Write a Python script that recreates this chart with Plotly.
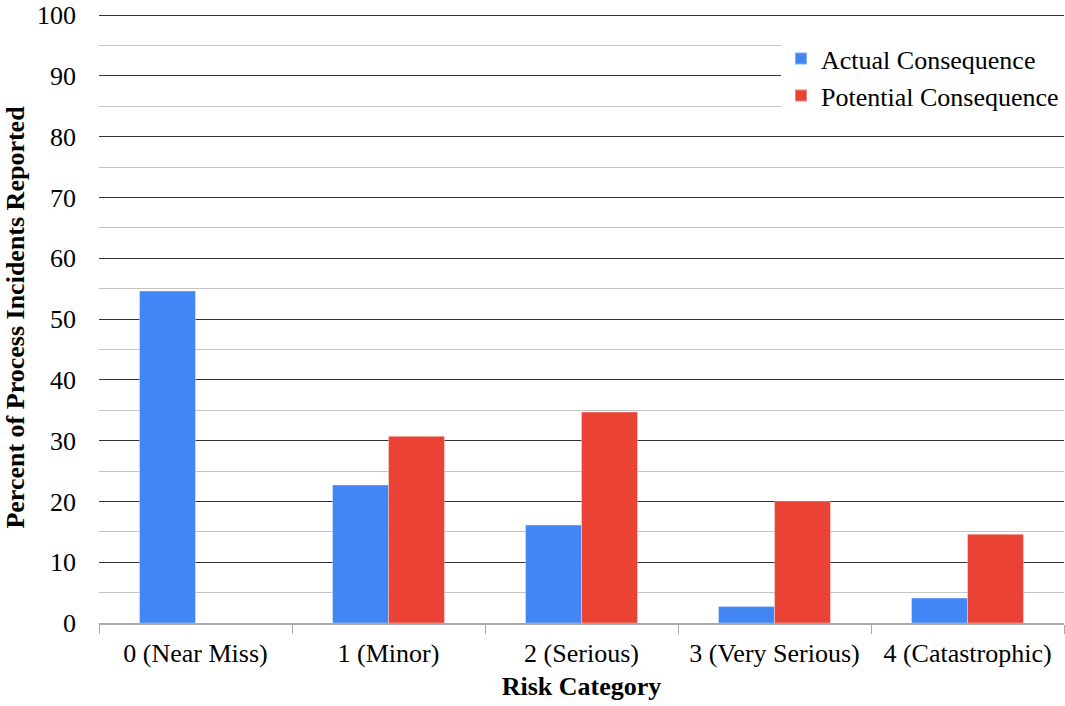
import plotly.graph_objects as go

categories = ["0 (Near Miss)", "1 (Minor)", "2 (Serious)", "3 (Very Serious)", "4 (Catastrophic)"]
actual = [54.6, 22.7, 16.1, 2.7, 4.1]
potential = [0, 30.7, 34.7, 20.0, 14.6]

FONT = "Liberation Serif"

fig = go.Figure()
fig.add_trace(go.Bar(
    x=categories, y=actual, name="Actual Consequence",
    marker=dict(color="#4285F4", line=dict(color="rgba(255,255,255,0.35)", width=1)),
))
fig.add_trace(go.Bar(
    x=categories, y=potential, name="Potential Consequence",
    marker=dict(color="#EA4335", line=dict(color="rgba(255,255,255,0.35)", width=1)),
))

fig.update_layout(
    width=1065, height=706,
    margin=dict(l=99, r=1, t=12, b=83),
    paper_bgcolor="white", plot_bgcolor="white",
    font=dict(family=FONT, size=26, color="black"),
    barmode="group", bargap=0.42, bargroupgap=0,
    showlegend=True,
    legend=dict(
        x=1.0, y=0.962, xanchor="right", yanchor="top",
        bgcolor="white", borderwidth=0,
        font=dict(family=FONT, size=26, color="black"),
        itemsizing="constant", tracegroupgap=0,
    ),
)

fig.update_xaxes(
    type="category",
    showgrid=False,
    showline=True, linecolor="#a8a8a8", linewidth=1.5,
    ticks="outside", tickson="boundaries", ticklen=9, tickcolor="#a8a8a8", tickwidth=1,
    ticklabelstandoff=6,
    tickfont=dict(family=FONT, size=26),
    title=dict(text="<b>Risk Category</b>", font=dict(family=FONT, size=26), standoff=10),
)

fig.update_yaxes(
    range=[0, 100.5], dtick=10, tick0=0,
    showgrid=True, gridcolor="#333333", gridwidth=1,
    minor=dict(dtick=5, showgrid=True, gridcolor="#c4c4c4", gridwidth=1),
    showline=False, zeroline=False,
    ticks="", ticklabelstandoff=22,
    tickfont=dict(family=FONT, size=26),
    title=dict(text="<b>Percent of Process Incidents Reported</b>",
               font=dict(family=FONT, size=26), standoff=4),
)

fig.write_html("out.html")
